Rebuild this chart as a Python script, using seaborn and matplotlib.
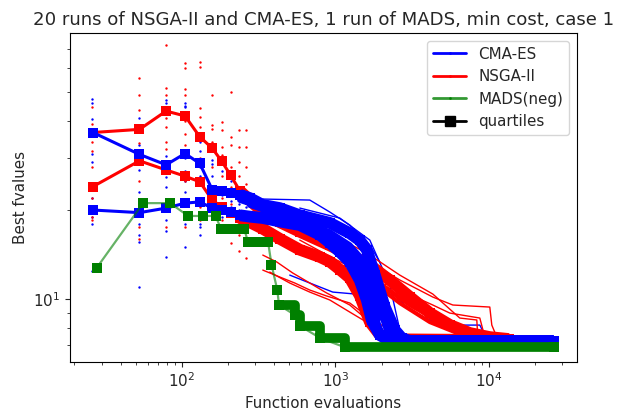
import matplotlib
matplotlib.use("Agg")
import matplotlib.pyplot as plt
import seaborn as sns
from matplotlib.lines import Line2D

sns.set_style("ticks")
plt.rcParams['font.family'] = ['DejaVu Sans']

# ---------------- data ----------------
gen_evals = [26, 53, 79, 105, 131, 158, 184, 210, 237, 263]

cma_gen_dots = [
    [47.5, 46, 40.5, 36.5, 31, 29, 22, 20, 19.5, 19, 18, 12.5],
    [41, 33, 27.3, 23, 20, 19.5, 18, 16.5, 15.6, 11],
    [47, 46, 30.5, 29, 27, 25.8, 24, 20, 18.5, 17, 13.9],
    [46, 45, 44.5, 30, 27, 25, 23, 19.5, 18, 15],
    [34, 31.5, 28, 26, 21, 18, 17.5, 16.5],
    [29.5, 28.5, 26, 23.5, 22, 20.5, 19],
    [27, 24, 22.5, 21, 20, 19],
    [25, 23, 21.5, 20.5, 19.5],
    [23.5, 22, 21, 20],
    [22.5, 21.5, 20.5, 19.5],
]
nsga_gen_dots = [
    [44.5, 39, 36, 34, 31.5, 28, 24, 22, 19, 18.5],
    [55.6, 48.8, 43.5, 37.2, 33.7, 29.5, 25, 19.2, 17.5, 16],
    [72, 51.5, 48.8, 44, 41, 38, 34, 32, 20, 17.5],
    [62.4, 60, 51, 48.8, 40, 36, 33, 25, 21, 17.5],
    [63.3, 60.5, 44, 41.1, 38.2, 30, 25, 20.5, 18.5],
    [48.8, 38.7, 37.4, 34, 33.4, 28, 24, 19.5],
    [39.7, 37.2, 32.6, 30.6, 26, 22, 18.5],
    [50.1, 35.3, 33, 28, 24, 21, 17.5, 15.5],
    [37.2, 32.6, 29, 26, 23.5, 19, 16.5, 14.5],
    [37.2, 32.6, 28, 24.5, 21.5, 18, 16, 13.8],
]

# later parts of individual runs (thin)
cma_runs_x = [
    [337, 682, 921, 1243, 1678, 1950],
    [2265, 3057, 4127, 5015, 8738, 9278, 10150, 26500],
    [505, 963, 1604, 1729, 1950, 2632],
    [587, 1070, 1678, 2265, 2632],
]
cma_runs_y = [
    [21.78, 21.61, 19.69, 17.8, 15.24, 13.36],
    [10.75, 9.2, 8.515, 8.19, 8.19, 7.7, 7.41, 7.29],
    [12.07, 10.58, 10.34, 8.515, 7.52, 7.29],
    [20.31, 18.79, 15.84, 11.17, 7.88],
]
# bundle of CMA-ES runs lying inside the quartile band
cma_bundle_x = [
    [239, 587, 921, 1243, 1556, 1808, 2101, 2265],
    [277, 587, 921, 1243, 1488, 1729, 1950],
    [337, 793, 1153, 1444, 1678, 1950],
]
cma_bundle_y = [
    [21.6, 18.5, 16.86, 15.24, 13.36, 10.75, 8.19, 7.41],
    [20.79, 18.22, 16.22, 14.43, 12.55, 9.945, 7.88],
    [20.0, 17.39, 15.24, 13.36, 11.17, 8.65],
]
nsga_runs_x = [
    [337, 587, 963, 1604, 2632, 4317, 5830, 10150, 10460, 11275],
    [337, 587, 963, 1604, 2632, 4317, 5570, 8738, 9419],
    [337, 587, 963, 1604, 2632, 4317, 6472, 8352, 8479],
    [337, 435, 545, 682, 880, 1243, 1678, 2265, 2632],
    [337, 416, 528, 682, 880, 1243, 1678, 2101],
    [374, 505, 682, 921, 1243, 1950],
    [587, 963, 1604, 2632, 4317, 6472, 10150],
    [587, 1243, 2632, 5570, 7520],
]
nsga_runs_y = [
    [20.79, 18.79, 15.84, 13.57, 11.62, 10.18, 9.57, 9.42, 8.19, 7.46],
    [20.0, 17.8, 14.66, 12.55, 10.75, 9.57, 8.99, 8.65, 7.46],
    [19.69, 18.22, 16.47, 14.32, 12.07, 10.42, 8.65, 8.52, 7.46],
    [12.55, 11.89, 11.35, 10.75, 10.26, 9.72, 8.65, 7.88, 7.52],
    [14.1, 13.36, 12.27, 11.35, 10.5, 9.57, 8.39, 7.7],
    [12.36, 11.35, 10.58, 9.95, 9.06, 7.88],
    [15.84, 13.78, 12.07, 9.945, 8.65, 7.88, 7.46],
    [17.39, 14.66, 11.17, 8.385, 7.76],
]
nsga_bundle_x = [
    [1243, 1950, 3057, 4797, 7520],
    [1070, 1678, 2632, 4127, 6472],
]
nsga_bundle_y = [
    [13.36, 11.35, 9.567, 8.385, 7.7],
    [14.1, 11.62, 9.716, 8.385, 7.64],
]

# quartile curves
cma_q3_x = [26.4, 53, 79, 105, 131, 158, 182, 208, 239, 277, 337, 435, 587,
            921, 1243, 1444, 1604, 1808, 2101, 2441, 2712, 3057, 26500]
cma_q3_y = [36.5, 30.8, 28.4, 31.0, 28.7, 23.4, 23.2, 22.8, 22.5, 21.95, 20.8,
            20.3, 19.2, 18.1, 16.7, 15.8, 14.7, 12.1, 9.42, 7.88, 7.4, 7.24, 7.24]
cma_q1_x = [26.4, 53, 79, 105, 131, 158, 182, 208, 239, 277, 337, 435, 587,
            793, 921, 1070, 1243, 1444, 1604, 1729, 1950, 2265, 26500]
cma_q1_y = [20.0, 19.6, 20.3, 21.1, 21.3, 20.3, 20.0, 19.7, 19.2, 19.0, 18.8,
            18.3, 17.8, 16.5, 15.5, 14.45, 13.36, 11.6, 9.95, 8.5, 7.58, 7.24, 7.24]
nsga_q3_x = [26.4, 53, 79, 105, 131, 158, 182, 208, 239, 277, 337, 435, 587,
             921, 1243, 1678, 2265, 3057, 4127, 5570, 7520, 10150, 13500]
nsga_q3_y = [36.5, 37.4, 43.1, 41.5, 35.3, 32.3, 29.2, 26.2, 23.2, 21.6, 19.7,
             18.2, 16.9, 15.2, 14.1, 13.05, 11.6, 10.2, 9.0, 8.2, 7.7, 7.46, 7.35]
nsga_q1_x = [26.4, 53, 79, 105, 131, 158, 182, 208, 239, 277, 337, 435, 587,
             793, 921, 1070, 1243, 1444, 1678, 1950, 2265, 2632, 13500]
nsga_q1_y = [24.0, 29.3, 27.3, 26.0, 24.9, 21.6, 20.5, 19.5, 18.8, 18.2, 17.3,
             16.0, 14.7, 13.9, 13.4, 12.6, 11.8, 10.3, 8.4, 7.6, 7.4, 7.33, 7.29]

# MADS single run
mads_x = [28, 56, 84, 110, 138, 166, 180, 205, 230, 255, 270, 300, 330, 365,
          384, 419, 430, 545, 590, 800, 1150, 26500]
mads_y = [12.8, 21.1, 21.1, 19.1, 19.1, 19.1, 17.3, 17.3, 17.3, 17.3, 15.6,
          15.6, 15.6, 15.6, 13.1, 10.75, 9.57, 8.86, 8.13, 7.4, 6.9, 6.9]

# ---------------- drawing ----------------
W, H = 617, 413
fig = plt.figure(figsize=(W / 100, H / 100), dpi=100)
ax = fig.add_axes([70 / W, 1 - 362 / H, 507 / W, 329 / H])
ax.set_xscale('log')
ax.set_yscale('log')

BLUE, RED, GREEN = (0, 0, 1), (1, 0, 0), (0, 0.5, 0)
MS = 7
BAND_FROM = 8  # index from which quartile squares overlap into a band
FS = 10.9


def dots(gen_dots, color):
    xs, ys = [], []
    for gx, vals in zip(gen_evals, gen_dots):
        xs += [gx] * len(vals)
        ys += vals
    sns.scatterplot(x=xs, y=ys, ax=ax, color=color, s=3, linewidth=0,
                    marker='o', legend=False, zorder=2)


def runs(rx, ry, color, lw=1.0, z=2):
    for x, y in zip(rx, ry):
        sns.lineplot(x=x, y=y, ax=ax, color=color, lw=lw, estimator=None,
                     sort=False, legend=False, zorder=z)


def quartile(x, y, color, z):
    sns.lineplot(x=x, y=y, ax=ax, color=color, lw=2.2, marker='s',
                 markersize=MS, markeredgewidth=0, markeredgecolor=color,
                 estimator=None, sort=False, legend=False, zorder=z)
    sns.lineplot(x=x[BAND_FROM:], y=y[BAND_FROM:], ax=ax, color=color,
                 lw=MS + 1.5, solid_capstyle='butt', solid_joinstyle='round',
                 estimator=None, sort=False, legend=False, zorder=z)


dots(cma_gen_dots, BLUE)
dots(nsga_gen_dots, RED)
runs(cma_runs_x, cma_runs_y, BLUE)
runs(nsga_runs_x, nsga_runs_y, RED)
runs(nsga_bundle_x, nsga_bundle_y, RED, lw=3.0)
quartile(nsga_q3_x, nsga_q3_y, RED, 3)
quartile(nsga_q1_x, nsga_q1_y, RED, 3)
runs(cma_bundle_x, cma_bundle_y, BLUE, lw=4.0, z=4)
quartile(cma_q3_x, cma_q3_y, BLUE, 4)
quartile(cma_q1_x, cma_q1_y, BLUE, 4)

# MADS
sns.lineplot(x=mads_x, y=mads_y, ax=ax, color=GREEN, lw=1.6, alpha=0.6,
             estimator=None, sort=False, legend=False, zorder=5)
sns.lineplot(x=mads_x, y=mads_y, ax=ax, color=GREEN, lw=0, marker='s',
             markersize=MS, markeredgewidth=0, markeredgecolor=GREEN,
             estimator=None, sort=False, legend=False, zorder=5)
ax.plot(mads_x[6:10], mads_y[6:10], color=GREEN, lw=MS, solid_capstyle='butt',
        zorder=5)
ax.plot(mads_x[10:14], mads_y[10:14], color=GREEN, lw=MS, solid_capstyle='butt',
        zorder=5)
ax.plot(mads_x[16:], mads_y[16:], color=GREEN, lw=MS, drawstyle='steps-post',
        solid_capstyle='butt', zorder=5)

ax.set_xlim(18.7, 37540)
ax.set_ylim(6.15, 79.0)

ax.set_title('20 runs of NSGA-II and CMA-ES, 1 run of MADS, min cost, case 1',
             fontsize=13.1)
ax.set_xlabel('Function evaluations', fontsize=FS)
ax.set_ylabel('Best fvalues', fontsize=FS)
ax.tick_params(labelsize=FS)
for s in ax.spines.values():
    s.set_color('black')

handles = [
    Line2D([], [], color=BLUE, lw=2, marker='.', ms=2),
    Line2D([], [], color=RED, lw=2, marker='.', ms=2),
    Line2D([], [], color=GREEN, lw=2, alpha=0.8, marker='.', ms=2),
    Line2D([], [], color='black', lw=2, marker='s', ms=7),
]
ax.legend(handles, ['CMA-ES', 'NSGA-II', 'MADS(neg)', 'quartiles'],
          loc='upper right', fontsize=FS, handlelength=2.2)

fig.savefig('out.png', dpi=100)
